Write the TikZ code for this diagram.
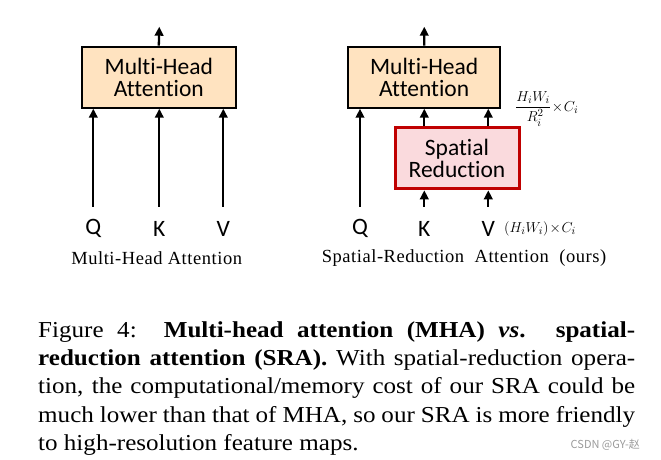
\documentclass[tikz,border=0pt]{standalone}
\usepackage{amsmath}
\usepackage{fontspec}
\usetikzlibrary{arrows.meta}
\setmainfont{Liberation Serif}
\newfontfamily\boxfont[Ligatures=NoCommon]{Carlito}
\newfontfamily\subfont[LetterSpace=3]{Liberation Serif}
\newfontfamily\capfont[FakeStretch=1.1]{Liberation Serif}
\newfontfamily\cjk{Noto Sans CJK SC}
\definecolor{MHAFill}{HTML}{FFE3C0}
\definecolor{SRFill}{HTML}{FADADD}
\definecolor{SRLine}{HTML}{C00000}
\definecolor{MarkGray}{HTML}{9A9A9A}
\tikzset{
  mhabox/.style={draw=black,line width=2pt,fill=MHAFill,minimum height=61pt,
    align=center,inner sep=0pt,font=\boxfont\fontsize{23.5}{23}\selectfont},
  srbox/.style={draw=SRLine,line width=3pt,fill=SRFill,minimum width=124pt,minimum height=61pt,
    align=center,inner sep=0pt,font=\boxfont\fontsize{23.5}{23}\selectfont},
  inlabel/.style={inner sep=0pt,font=\boxfont\fontsize{23.5}{23}\selectfont},
  sublabel/.style={inner sep=0pt,font=\subfont\fontsize{18.5}{18.5}\selectfont},
  dimlabel/.style={inner sep=0pt,font=\fontsize{15}{15}\selectfont},
  arr/.style={line width=2.3pt,-{Triangle[length=9pt,width=8.5pt]}},
}
\begin{document}
\begin{tikzpicture}[x=1pt,y=-1pt]
\path[use as bounding box] (0,0) rectangle (661,460);
% left: plain multi-head attention
\node[mhabox,minimum width=154pt] (mhaL) at (158.8,77.2) {Multi-Head\\[-1pt]Attention};
\coordinate (outL) at (159.3,26.7);
\draw[arr] (mhaL.north) -- (outL);
\node[inlabel] (qL) at (93.3,228.5) {Q};
\node[inlabel] (kL) at (159.3,228.5) {K};
\node[inlabel] (vL) at (223.3,228.5) {V};
\foreach \n/\x in {qL/93.3,kL/159.3,vL/223.3}{
  \coordinate (\n in) at (\x,206.7);
  \draw[arr] (\n in) -- (\n in |- mhaL.south);
}
\node[sublabel] (capL) at (156.7,258) {Multi-Head\ Attention};
% right: spatial-reduction attention
\node[mhabox,minimum width=152pt] (mhaR) at (424.2,77.2) {Multi-Head\\[-1pt]Attention};
\coordinate (outR) at (424.3,26.7);
\draw[arr] (mhaR.north) -- (outR);
\node[srbox] (sr) at (457,158.3) {Spatial\\[-1pt]Reduction};
\node[inlabel] (qR) at (360,228.5) {Q};
\node[inlabel] (kR) at (424.3,228.5) {K};
\node[inlabel] (vR) at (488.3,228.5) {V};
\coordinate (qRin) at (360,206.7);
\coordinate (kRin) at (424.3,206.7);
\coordinate (vRin) at (488.3,206.7);
\draw[arr] (qRin) -- (qRin |- mhaR.south);
\draw[arr] (kRin) -- (kRin |- sr.south);
\draw[arr] (vRin) -- (vRin |- sr.south);
\draw[arr] (kRin |- sr.north) -- (kRin |- mhaR.south);
\draw[arr] (vRin |- sr.north) -- (vRin |- mhaR.south);
\node[dimlabel,anchor=west] (dimIn) at (504,229) {$(H_iW_i)\!\times\! C_i$};
\node[dimlabel,anchor=west] (dimOut) at (515,109) {$\dfrac{H_iW_i}{\;R_i^2}\!\times\! C_i$};
\node[sublabel] (capR) at (464,258) {Spatial-Reduction\ \ Attention\ \ (ours)};
% caption
\node[anchor=north west,inner sep=0pt,text width=597pt,align=justify,
  font=\capfont\fontsize{22.8}{28.4}\selectfont] (caption) at (38,321) {Figure 4:\ \ \textbf{Multi-head attention (MHA) \textit{vs}. spatial-\linebreak
reduction attention (SRA).} With spatial-reduction opera-\linebreak
tion, the computational/memory cost of our SRA could be\linebreak
much lower than that of MHA, so our SRA is more friendly\linebreak
to high-resolution feature maps.};
\node[anchor=east,inner sep=0pt,text=MarkGray,font=\cjk\fontsize{11}{11}\selectfont] (mark) at (640,445) {CSDN @GY-赵};
\end{tikzpicture}
\end{document}
